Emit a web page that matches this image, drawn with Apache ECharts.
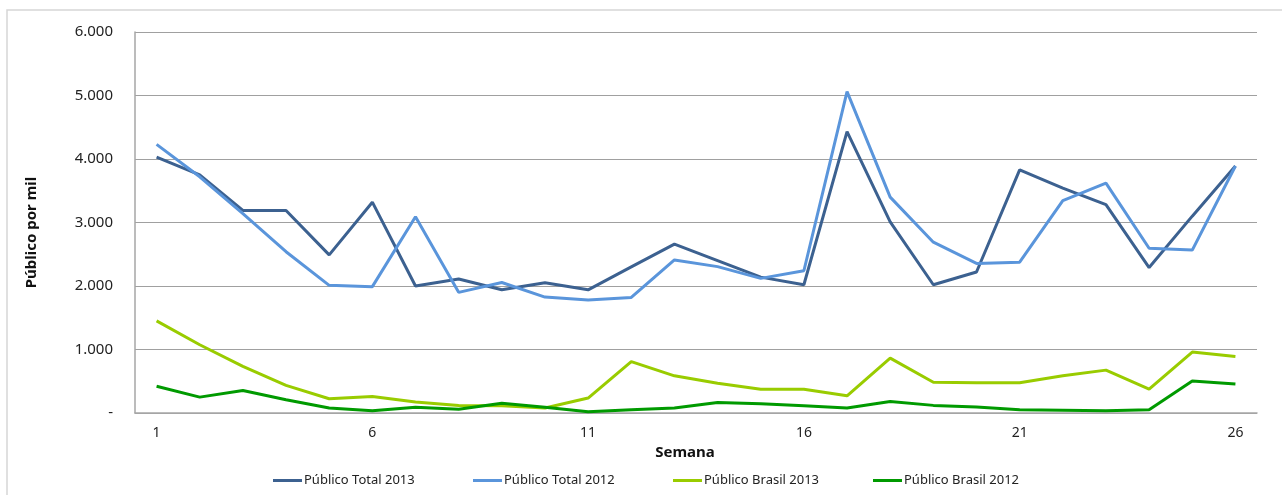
<!DOCTYPE html>
<html>
<head>
<meta charset="utf-8">
<script src="https://cdn.jsdelivr.net/npm/echarts@6/dist/echarts.min.js"></script>
<style>
    html, body { margin: 0; padding: 0; background: #fff; }
    #chart { width: 1282px; height: 495px; }
</style>
</head>
<body>
<div id="chart"></div>
<script>
    'use strict';

    var semanas = [];
    for (var s = 1; s <= 26; s++) {
        semanas.push(String(s));
    }

    var seriesNames = ['Público Total 2013', 'Público Total 2012', 'Público Brasil 2013', 'Público Brasil 2012'];

    var publicoTotal2013 = [4030, 3750, 3190, 3190, 2490, 3320, 2000, 2110, 1940, 2050,
        1940, 2300, 2660, 2400, 2140, 2020, 4430, 3010, 2020, 2220,
        3830, 3540, 3280, 2290, 3100, 3890];

    var publicoTotal2012 = [4230, 3720, 3140, 2540, 2010, 1990, 3090, 1900, 2055, 1825,
        1780, 1820, 2410, 2305, 2120, 2240, 5060, 3400, 2690, 2355,
        2375, 3345, 3620, 2595, 2565, 3890];

    var publicoBrasil2013 = [1450, 1075, 735, 435, 225, 260, 175, 120, 115, 80,
        235, 810, 585, 470, 375, 375, 270, 865, 485, 475,
        475, 585, 675, 375, 960, 890];

    var publicoBrasil2012 = [420, 250, 355, 210, 80, 35, 90, 60, 155, 90,
        20, 50, 80, 165, 145, 115, 80, 180, 120, 95,
        50, 45, 35, 50, 505, 455];

    var cores = ['#3c6190', '#5a95db', '#99cc00', '#009a00'];

    var formatMil = function(v) {
        if (v === 0) {
            return '-';
        }
        return String(v).replace(/\B(?=(\d{3})+(?!\d))/g, '.');
    };

    var linha = function(name, data, cor) {
        return {
            name: name,
            type: 'line',
            data: data,
            symbol: 'none',
            smooth: false,
            lineStyle: { width: 3, color: cor },
            itemStyle: { color: cor }
        };
    };

    var legenda = function(name, left) {
        return {
            data: [name],
            left: left,
            top: 474,
            padding: 0,
            itemWidth: 29,
            itemHeight: 3,
            icon: 'rect',
            textStyle: { fontSize: 13, color: '#222', padding: [0, 0, 0, -3] }
        };
    };

    var myChart = echarts.init(document.getElementById('chart'), null, { renderer: 'canvas' });

    myChart.setOption({
        animation: false,
        backgroundColor: '#fff',
        textStyle: { fontFamily: 'Noto Sans, sans-serif' },
        color: cores,
        graphic: [{
            type: 'rect',
            shape: { x: 7, y: 10, width: 1300, height: 520 },
            style: { fill: 'none', stroke: '#d6d6d6', lineWidth: 1.5 },
            silent: true,
            z: -1
        }],
        grid: { left: 135, right: 25, top: 32, bottom: 82 },
        legend: [
            legenda(seriesNames[0], 273),
            legenda(seriesNames[1], 473),
            legenda(seriesNames[2], 673),
            legenda(seriesNames[3], 873)
        ],
        xAxis: {
            type: 'category',
            data: semanas,
            boundaryGap: true,
            name: 'Semana',
            nameLocation: 'middle',
            nameGap: 30,
            nameTextStyle: { fontWeight: 'bold', fontSize: 15, color: '#111', padding: [0, 22, 0, 0] },
            axisLine: { lineStyle: { color: '#a6a6a6', width: 1.5 } },
            axisTick: { show: false },
            axisLabel: { interval: 4, fontSize: 14, color: '#222', margin: 13 },
            splitLine: { show: false }
        },
        yAxis: {
            type: 'value',
            min: 0,
            max: 6000,
            interval: 1000,
            name: 'Público por mil',
            nameLocation: 'middle',
            nameGap: 96,
            nameTextStyle: { fontWeight: 'bold', fontSize: 15, color: '#111', padding: [0, 20, 0, 0] },
            axisLine: { show: true, lineStyle: { color: '#a6a6a6', width: 1.5 } },
            axisTick: { show: false },
            axisLabel: { formatter: formatMil, fontSize: 15, color: '#222', margin: 22 },
            splitLine: { lineStyle: { color: '#a0a0a0', width: 1.2 } }
        },
        series: [
            linha(seriesNames[0], publicoTotal2013, cores[0]),
            linha(seriesNames[1], publicoTotal2012, cores[1]),
            linha(seriesNames[2], publicoBrasil2013, cores[2]),
            linha(seriesNames[3], publicoBrasil2012, cores[3])
        ]
    });
</script>
</body>
</html>
